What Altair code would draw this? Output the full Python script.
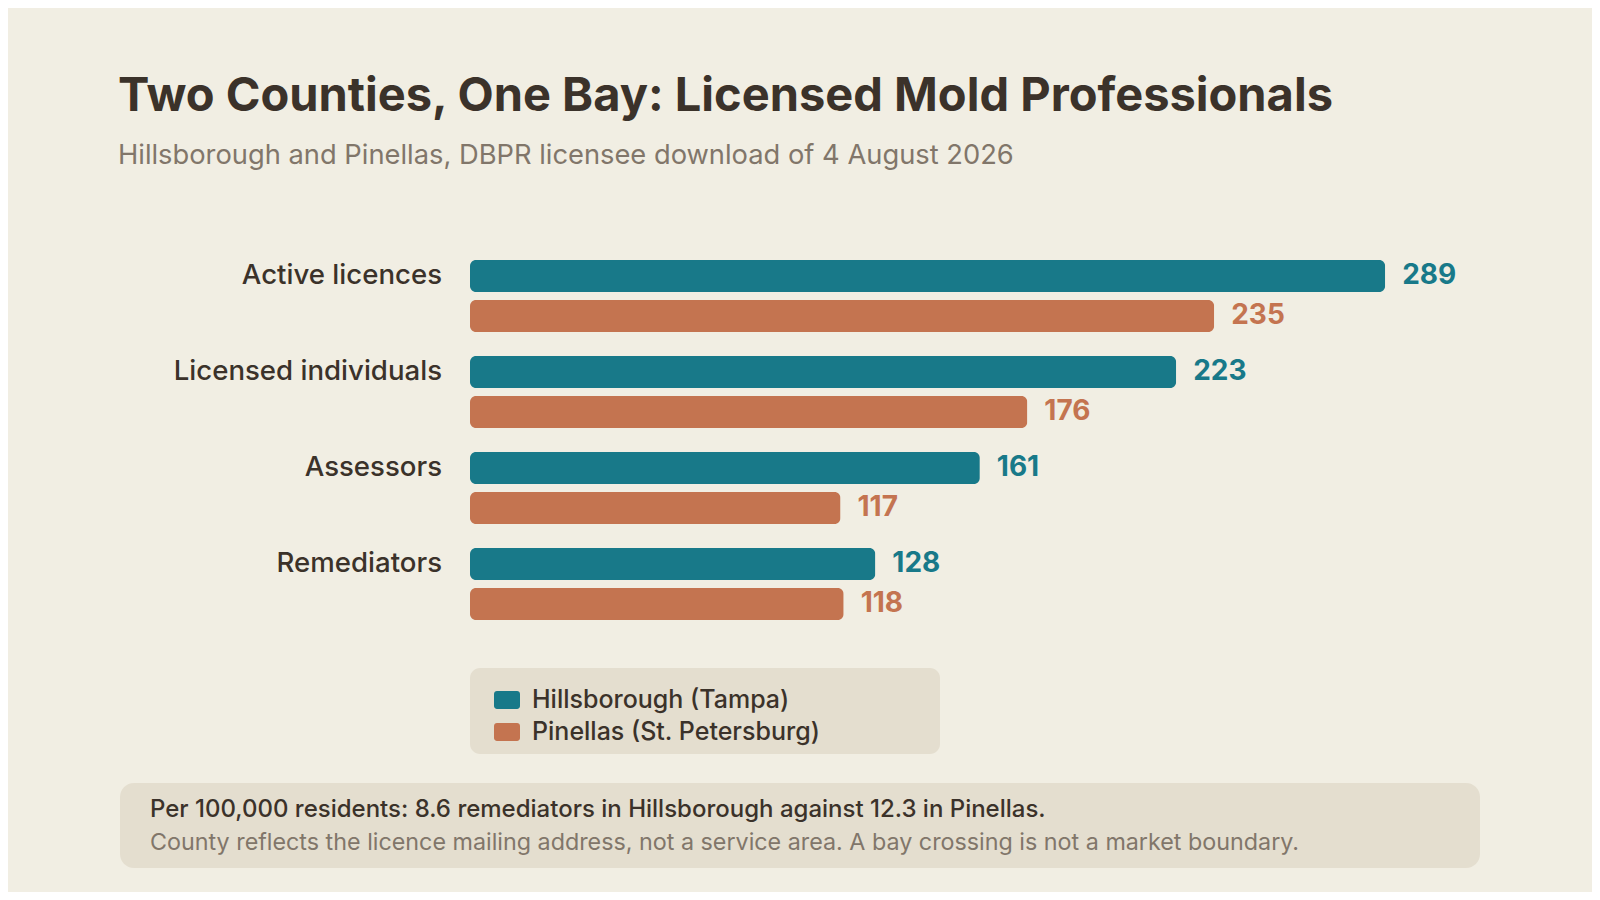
import altair as alt
import pandas as pd

categories = ["Active licences", "Licensed individuals", "Assessors", "Remediators"]
counties = ["Hillsborough (Tampa)", "Pinellas (St. Petersburg)"]
hillsborough = [289, 223, 161, 128]
pinellas = [235, 176, 117, 118]
county_colors = ["#187989", "#C47450"]

title_text = "Two Counties, One Bay: Licensed Mold Professionals"
subtitle_text = "Hillsborough and Pinellas, DBPR licensee download of 4 August 2026"
footer_lines = [
    "Per 100,000 residents: 8.6 remediators in Hillsborough against 12.3 in Pinellas.",
    "County reflects the licence mailing address, not a service area. A bay crossing is not a market boundary.",
]

BG = "#F1EEE3"
PANEL = "#E4DECF"
DARK = "#3B322A"
GREY = "#81766A"
FONT = "Inter"

rows = []
for i, c in enumerate(categories):
    rows.append({"category": c, "county": counties[0], "value": hillsborough[i], "hex": county_colors[0]})
    rows.append({"category": c, "county": counties[1], "value": pinellas[i], "hex": county_colors[1]})
df = pd.DataFrame(rows)

y_enc = alt.Y("category:N", sort=categories, axis=None,
              scale=alt.Scale(paddingInner=0.25, paddingOuter=0.125))
yoff_enc = alt.YOffset("county:N", sort=counties,
                       scale=alt.Scale(paddingInner=0.2, paddingOuter=0))
x_enc = alt.X("value:Q", axis=None, scale=alt.Scale(domain=[0, 300]))

legend_symbol = ("M-0.77,-0.692H0.77A0.23,0.23,0,0,1,1,-0.462V0.462A0.23,0.23,0,0,1,0.77,0.692"
                 "H-0.77A0.23,0.23,0,0,1,-1,0.462V-0.462A0.23,0.23,0,0,1,-0.77,-0.692Z")

base = alt.Chart(df)

one = pd.DataFrame({"k": [0]})
legend_bg = alt.Chart(one).mark_rect(cornerRadius=10, color=PANEL).encode(
    x=alt.value(0), x2=alt.value(470), y=alt.value(420), y2=alt.value(506)
)

bars = base.mark_bar(cornerRadius=6).encode(
    y=y_enc,
    yOffset=yoff_enc,
    x=x_enc,
    color=alt.Color(
        "county:N", sort=counties,
        scale=alt.Scale(domain=counties, range=county_colors),
        legend=alt.Legend(
            orient="none", legendX=24, legendY=439, title=None,
            symbolType=legend_symbol, symbolSize=676, symbolStrokeWidth=0,
            symbolOpacity=1, labelFont=FONT, labelFontSize=25, labelColor=DARK,
            labelFontWeight=500, labelOffset=12, rowPadding=6, padding=0,
            labelLimit=600, direction="vertical",
        ),
    ),
)

values = base.mark_text(align="left", baseline="middle", dx=17, font=FONT,
                        fontSize=28, fontWeight=700).encode(
    y=y_enc, yOffset=yoff_enc, x=x_enc,
    text=alt.Text("value:Q"),
    color=alt.Color("hex:N", scale=None),
)

cat_labels = base.transform_filter(
    alt.datum.county == counties[0]
).mark_text(align="right", baseline="middle", font=FONT, fontSize=27.6,
            fontWeight=500, color=DARK).encode(
    y=y_enc, yOffset=yoff_enc, x=alt.value(-28), text="category:N"
)

footer_bg = alt.Chart(one).mark_rect(cornerRadius=14, color=PANEL).encode(
    x=alt.value(-350), x2=alt.value(1010), y=alt.value(535), y2=alt.value(620)
)
footer1 = alt.Chart(pd.DataFrame({"t": [footer_lines[0]]})).mark_text(
    align="left", baseline="alphabetic", font=FONT, fontSize=24, fontWeight=500, color=DARK
).encode(x=alt.value(-320), y=alt.value(569), text="t:N")
footer2 = alt.Chart(pd.DataFrame({"t": [footer_lines[1]]})).mark_text(
    align="left", baseline="alphabetic", font=FONT, fontSize=23.3, color=GREY
).encode(x=alt.value(-320), y=alt.value(602), text="t:N")

chart = alt.layer(
    legend_bg, footer_bg, bars, values, cat_labels, footer1, footer2
).properties(
    width=950,
    height=384,
    title=alt.TitleParams(
        text=title_text, subtitle=subtitle_text, anchor="start", frame="group",
        dx=-352, offset=77.7, font=FONT, fontSize=47, fontWeight=700, color=DARK,
        subtitleFont=FONT, subtitleFontSize=27.3, subtitleColor=GREY,
        subtitlePadding=21,
    ),
    autosize=alt.AutoSizeParams(type="none"),
    padding={"left": 462, "top": 240, "right": 172, "bottom": 260},
).configure(background=BG).configure_view(stroke=None)

chart.save("out.html", embed_options={"renderer": "svg", "actions": False})
